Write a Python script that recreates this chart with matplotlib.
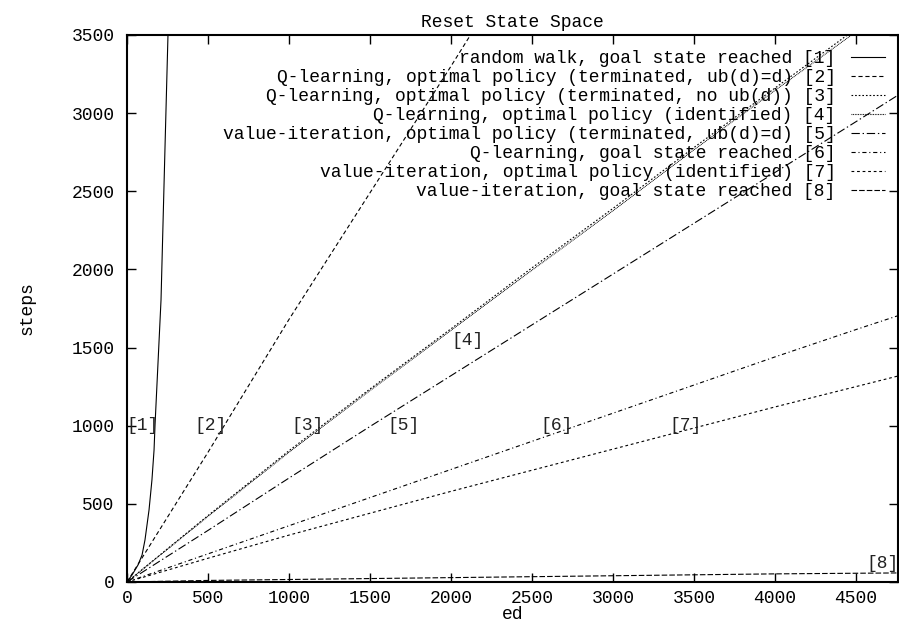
import matplotlib
matplotlib.use("Agg")
import matplotlib.pyplot as plt

plt.rcParams['font.family'] = ['Liberation Mono', 'DejaVu Sans Mono']
plt.rcParams['lines.scale_dashes'] = False

# ---- data ----
rw_ed = [0, 31, 68, 93, 111, 136, 154, 167, 173, 210, 235, 253]
rw_steps = [0, 45, 109, 173, 269, 461, 653, 845, 1004, 1804, 2796, 3500]

ql_term_ub_ed = [0, 500, 1000, 1500, 2000, 2500]
ql_term_ub = [0, 830, 1680, 2490, 3300, 4130]

ed = [0, 500, 1000, 1500, 2000, 2500, 3000, 3500, 4000, 4500, 4760]
ql_term_noub = [0, 425, 840, 1235, 1620, 2010, 2390, 2780, 3160, 3540, 3745]
ql_ident = [0, 420, 830, 1225, 1610, 1995, 2375, 2765, 3145, 3520, 3725]
vi_term_ub = [0, 330, 665, 995, 1320, 1645, 1970, 2295, 2620, 2945, 3115]
ql_goal = [0, 180, 360, 540, 720, 900, 1080, 1260, 1440, 1615, 1704]
vi_ident = [0, 152, 300, 440, 580, 715, 850, 985, 1120, 1250, 1318]
vi_goal = [0, 10, 16, 22, 28, 34, 40, 46, 52, 56, 58]

labels = [
    "random walk, goal state reached [1]",
    "Q-learning, optimal policy (terminated, ub(d)=d) [2]",
    "Q-learning, optimal policy (terminated, no ub(d)) [3]",
    "Q-learning, optimal policy (identified) [4]",
    "value-iteration, optimal policy (terminated, ub(d)=d) [5]",
    "Q-learning, goal state reached [6]",
    "value-iteration, optimal policy (identified) [7]",
    "value-iteration, goal state reached [8]",
]
tags = ["[1]", "[2]", "[3]", "[4]", "[5]", "[6]", "[7]", "[8]"]
tag_x = [93, 513, 1112, 2100, 1705, 2650, 3447, 4665]
tag_y = [1000, 1000, 1000, 1548, 1000, 1000, 1000, 121]

xticks = [0, 500, 1000, 1500, 2000, 2500, 3000, 3500, 4000, 4500]
yticks = [0, 500, 1000, 1500, 2000, 2500, 3000, 3500]

styles = [
    '-',
    (0, (3, 2)),
    (0, (1.2, 1.4)),
    (0, (0.6, 0.6)),
    (0, (6, 2, 1, 2)),
    (0, (3, 2, 0.8, 2)),
    (0, (2, 2)),
    (0, (4, 1.5)),
]

fig = plt.figure(figsize=(8.99, 6.25), dpi=100)
W, H = 899, 625
ax = fig.add_axes([127 / W, 1 - 582 / H, (898 - 127) / W, (582 - 35) / H])

series = [
    (rw_ed, rw_steps), (ql_term_ub_ed, ql_term_ub), (ed, ql_term_noub), (ed, ql_ident),
    (ed, vi_term_ub), (ed, ql_goal), (ed, vi_ident), (ed, vi_goal),
]
lw = 0.8
for (xs, ys), ls, lab in zip(series, styles, labels):
    ax.plot(xs, ys, color='black', lw=lw, linestyle=ls, label=lab)

fs = 13
for t, x, y in zip(tags, tag_x, tag_y):
    ax.text(x, y, t, ha='center', va='center', fontsize=fs, color='#222222')

ax.set_xlim(0, 4760)
ax.set_ylim(0, 3500)
ax.set_xticks(xticks)
ax.set_yticks(yticks)
ax.tick_params(direction='in', top=True, right=True, length=6.5, width=1,
               labelsize=fs, pad=9, colors='black')
ax.tick_params(axis='x', pad=6)
for s in ax.spines.values():
    s.set_linewidth(1.5)

ax.set_title("Reset State Space", fontsize=fs, pad=6)
ax.set_xlabel("ed", fontsize=fs, labelpad=-1)
ax.set_ylabel("steps", fontsize=fs, labelpad=26)

leg = ax.legend(loc='upper right', bbox_to_anchor=(1.0, 0.995), frameon=False,
                markerfirst=False, fontsize=fs, handlelength=1.9, handletextpad=0.85,
                labelspacing=0.11, borderaxespad=0.3, alignment='right')
for text in leg.get_texts():
    text.set_ha('right')

fig.savefig("out.png", dpi=100)
